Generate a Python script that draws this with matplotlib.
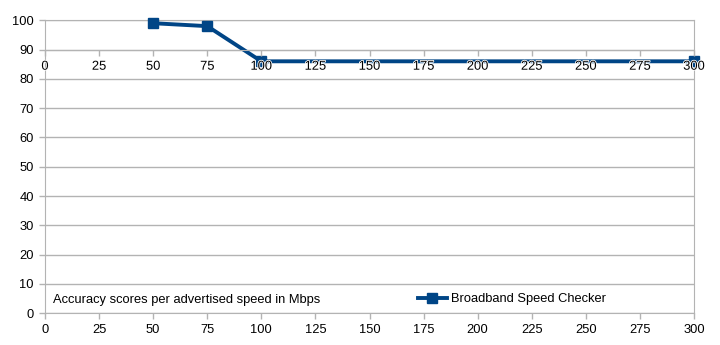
import matplotlib.pyplot as plt
import matplotlib.patheffects as pe

plt.rcParams['font.family'] = ['Liberation Sans', 'DejaVu Sans']
plt.rcParams['font.size'] = 9.3

# data
speed = [50, 75, 100, 300]
accuracy = [99, 98, 86, 86]
x_ticks = list(range(0, 301, 25))
y_ticks = list(range(0, 101, 10))

grid_col = '#b3b3b3'
line_col = '#004586'

fig = plt.figure(figsize=(7.2, 3.45), dpi=100)
ax = fig.add_axes([0.0625, 0.0919, 0.9014, 0.8493])

ax.plot(speed, accuracy, color=line_col, lw=2.8, marker='s', ms=7.5,
        label='Broadband Speed Checker', zorder=3, clip_on=False)

ax.set_xlim(0, 300)
ax.set_ylim(0, 100)
ax.set_xticks(x_ticks)
ax.set_yticks(y_ticks)
ax.grid(axis='y', color=grid_col, lw=1)
for s in ax.spines.values():
    s.set_color(grid_col)
ax.tick_params(colors=grid_col, labelcolor='black', length=4, width=1)
ax.tick_params(axis='x', pad=4)
ax.tick_params(axis='y', pad=4)

# secondary x axis crossing at y = 90
sec = ax.secondary_xaxis(0.9)
sec.set_alignment('bottom')
sec.set_xticks(x_ticks)
sec.spines['bottom'].set_color(grid_col)
sec.tick_params(colors=grid_col, labelcolor='black', length=4, width=1, pad=4)
for lbl in sec.get_xticklabels():
    lbl.set_path_effects([pe.withStroke(linewidth=1.2, foreground='white')])
sec.set_zorder(4)

ax.legend(loc='lower left', bbox_to_anchor=(0.566, 0.01), frameon=False,
          handlelength=2.3, handletextpad=0.3, borderaxespad=0)
fig.text(0.074, 0.131, 'Accuracy scores per advertised speed in Mbps',
         ha='left', va='center')

fig.savefig('out.png', dpi=100)
